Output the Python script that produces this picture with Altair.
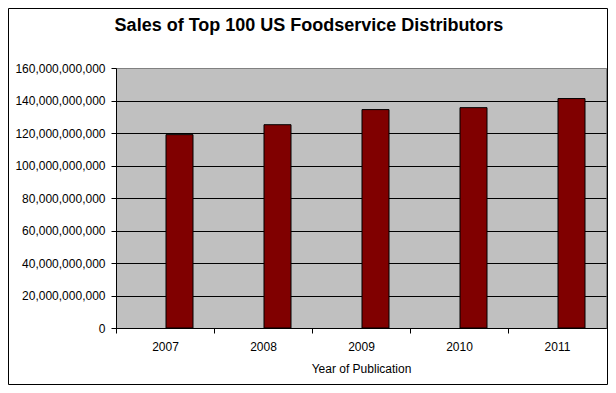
import altair as alt
import pandas as pd

# Data
years = ["2007", "2008", "2009", "2010", "2011"]
sales = [119.0e9, 125.1e9, 134.4e9, 135.6e9, 141.2e9]
y_ticks = [0, 20e9, 40e9, 60e9, 80e9, 100e9, 120e9, 140e9, 160e9]

df = pd.DataFrame({"year": years, "sales": sales})
frame_df = pd.DataFrame({"f": [0]})

FONT = "Liberation Sans"

bars = alt.Chart(df).mark_bar(
    color="#800000", stroke="black", strokeWidth=1, width=27, xOffset=14.5
).encode(
    x=alt.X(
        "year:O",
        scale=alt.Scale(paddingInner=0, paddingOuter=0),
        axis=alt.Axis(
            title="Year of Publication",
            labelAngle=0,
            tickSize=5,
            tickOffset=-49,
            labelOffset=49,
            labelPadding=8,
            titlePadding=11,
            grid=False,
        ),
    ),
    y=alt.Y(
        "sales:Q",
        scale=alt.Scale(domain=[0, 160e9], nice=False),
        axis=alt.Axis(
            title=None,
            values=y_ticks,
            format=",d",
            tickSize=5,
            labelPadding=6,
            grid=True,
            gridColor={
                "condition": {"test": "datum.value >= 150000000000", "value": "#808080"},
                "value": "black",
            },
        ),
    ),
)

frame = alt.Chart(frame_df).mark_rect(
    fill=None, stroke="black", strokeWidth=1
).encode(
    x=alt.value(-107.5),
    x2=alt.value(491.5),
    y=alt.value(-59.5),
    y2=alt.value(316.5),
)

chart = alt.layer(frame, bars).properties(
    width=490,
    height=260,
    title=alt.TitleParams(
        "Sales of Top 100 US Foodservice Distributors",
        font=FONT,
        fontSize=18,
        fontWeight="bold",
        color="black",
        anchor="middle",
        frame="group",
        dx=-52,
        dy=27,
        offset=0,
    ),
    autosize=alt.AutoSizeParams(type="none"),
    padding={"left": 108, "top": 60, "right": 2, "bottom": 57},
).configure(
    background="white",
).configure_view(
    fill="#C0C0C0", stroke="#808080", strokeWidth=1
).configure_axis(
    labelFont=FONT,
    titleFont=FONT,
    labelFontSize=12,
    titleFontSize=12,
    titleFontWeight="normal",
    labelColor="black",
    titleColor="black",
    domainColor="black",
    tickColor="black",
    gridOpacity=1,
    gridWidth=1,
)

chart.save("out.html", embed_options={"renderer": "svg", "actions": False})
